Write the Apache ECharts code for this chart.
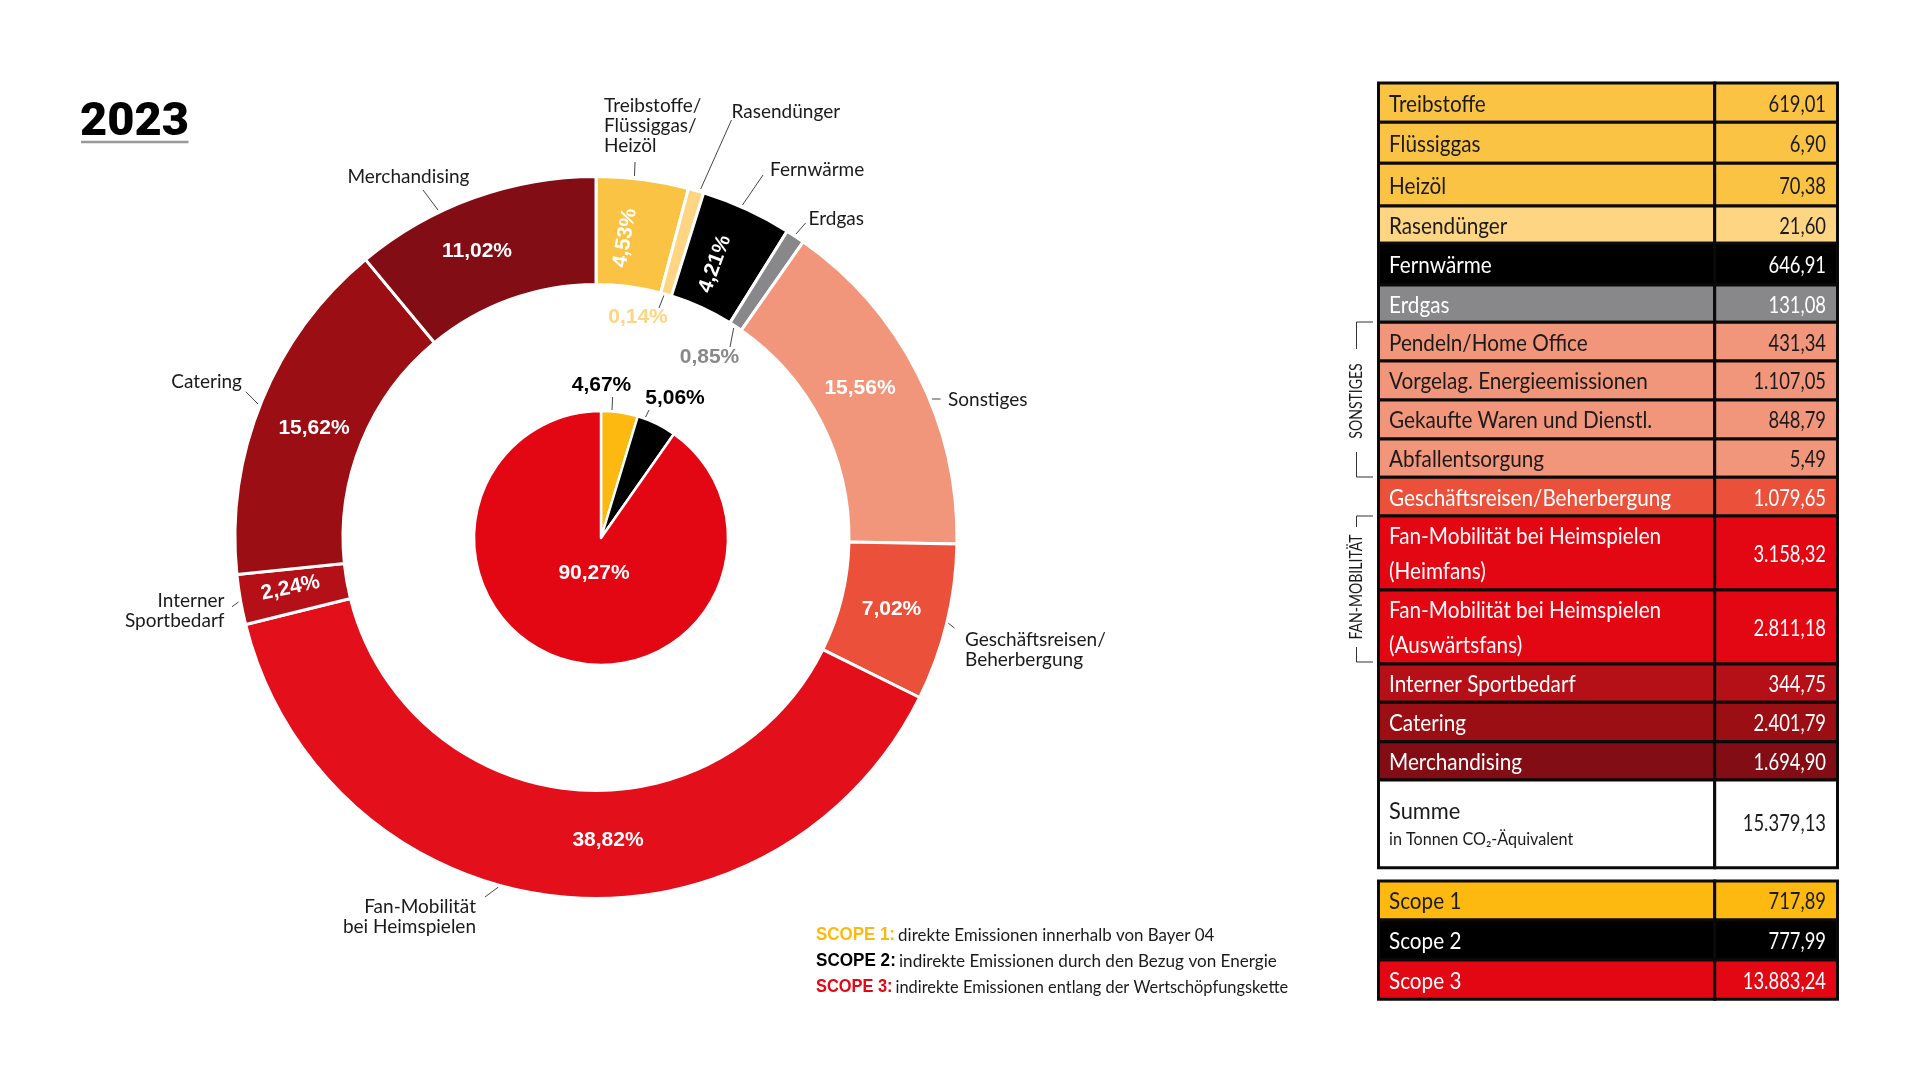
<!DOCTYPE html>
<html>
<head>
<meta charset="utf-8">
<title>2023</title>
<script src="https://cdn.jsdelivr.net/npm/echarts@6/dist/echarts.min.js"></script>
<style>
    html, body { margin: 0; padding: 0; background: #fff; }
    #chart { width: 1920px; height: 1080px; }
</style>
</head>
<body>
<div id="chart"></div>
<script>
// ring data, small slices as wide as they are drawn in the picture
var outerNames = ['Treibstoffe/\nFlüssiggas/\nHeizöl', 'Rasendünger', 'Fernwärme', 'Erdgas', 'Sonstiges',
    'Geschäftsreisen/\nBeherbergung', 'Fan-Mobilität\nbei Heimspielen', 'Interner\nSportbedarf', 'Catering', 'Merchandising'];
var outerShares = [4.12, 0.7, 4.06, 0.85, 15.56, 7.02, 38.82, 2.24, 15.62, 11.02];
var outerPercents = ['4,53%', '0,14%', '4,21%', '0,85%', '15,56%', '7,02%', '38,82%', '2,24%', '15,62%', '11,02%'];

// scope pie
var innerNames = ['Scope 1', 'Scope 2', 'Scope 3'];
var innerValues = [4.67, 5.06, 90.27];
var innerPercents = ['4,67%', '5,06%', '90,27%'];

// table
var tableLabels = ['Treibstoffe', 'Flüssiggas', 'Heizöl', 'Rasendünger', 'Fernwärme', 'Erdgas', 'Pendeln/Home Office',
    'Vorgelag. Energieemissionen', 'Gekaufte Waren und Dienstl.', 'Abfallentsorgung', 'Geschäftsreisen/Beherbergung',
    'Fan-Mobilität bei Heimspielen\n(Heimfans)', 'Fan-Mobilität bei Heimspielen\n(Auswärtsfans)', 'Interner Sportbedarf',
    'Catering', 'Merchandising'];
var tableValues = ['619,01', '6,90', '70,38', '21,60', '646,91', '131,08', '431,34', '1.107,05', '848,79', '5,49',
    '1.079,65', '3.158,32', '2.811,18', '344,75', '2.401,79', '1.694,90'];
var sumLabel = 'Summe';
var sumUnit = 'in Tonnen CO₂-Äquivalent';
var sumValue = '15.379,13';
var scopeLabels = ['Scope 1', 'Scope 2', 'Scope 3'];
var scopeValues = ['717,89', '777,99', '13.883,24'];
var noteHeads = ['SCOPE 1:', 'SCOPE 2:', 'SCOPE 3:'];
var noteTexts = ['direkte Emissionen innerhalb von Bayer 04', 'indirekte Emissionen durch den Bezug von Energie',
    'indirekte Emissionen entlang der Wertschöpfungskette'];

// colours
var outerColors = ['#fbc344', '#fed583', '#000000', '#88888a', '#f2967b', '#ea503a', '#e30f1b', '#b50f17', '#9b0e14', '#820d14'];
var innerColors = ['#fdb90f', '#000000', '#e30613'];
var rowColors = ['#fbc344', '#fbc344', '#fbc344', '#fed583', '#000000', '#88888a', '#f2967b', '#f2967b', '#f2967b', '#f2967b',
    '#ea503a', '#e30613', '#e30613', '#b50f17', '#9b0e14', '#820d14'];
var rowTextColors = ['#1a1a1a', '#1a1a1a', '#1a1a1a', '#1a1a1a', '#fff', '#fff', '#1a1a1a', '#1a1a1a', '#1a1a1a', '#1a1a1a',
    '#fff', '#fff', '#fff', '#fff', '#fff', '#fff'];
var scopeColors = ['#fdb90f', '#000000', '#e30613'];
var scopeTextColors = ['#1a1a1a', '#fff', '#fff'];
var noteColors = ['#fdb90f', '#000000', '#e30613'];

// layout
var FONT = 'Lato, "Liberation Sans", sans-serif';
var BOLD_FONT = '"Liberation Sans", sans-serif';
var ringCenter = [596, 537.5];
var pieCenter = [601, 538];
var rowEdges = [83, 122.3, 163.3, 206, 243.3, 285, 322.3, 361, 400, 439, 477.3, 516, 590, 664, 702.3, 741.7, 780];
var sumBottom = 867.7;
var scopeEdges = [881, 920, 960, 999.3];
var tableLeft = 1378.5, tableMid = 1714.7, tableRight = 1837.5;
var textLeft = 1389, textRight = 1826;
var noteRows = [935, 961, 987];
var noteSqueeze = [0.94, 0.95, 0.91];

// label anchors: [x, y, align, rotate]
var percentAnchors = [
    [625, 238, 'center', 80], [638, 317, 'center', 0], [715, 264, 'center', 70], [709.5, 357, 'center', 0], [860, 388, 'center', 0],
    [891.5, 609, 'center', 0], [608, 840, 'center', 0], [290.5, 588, 'center', 12], [314, 428, 'center', 0], [477, 251, 'center', 0]
];
var percentLines = { 1: [[664, 295], [659, 308]], 3: [[733.7, 328], [730, 347]] };
var nameAnchors = [
    [604, 125.5, 'left'], [731.5, 111.5, 'left'], [770, 170, 'left'], [808.5, 219, 'left'], [948, 400, 'left'],
    [965, 650, 'left'], [476, 917, 'right'], [224.5, 610.5, 'right'], [242, 382, 'right'], [469.5, 176.5, 'right']
];
var nameLines = [
    [[635, 162], [634.5, 176]], [[731.5, 120], [700.7, 189]], [[763, 175], [742.5, 205]], [[805.6, 223], [796, 234]],
    [[932, 399], [940.6, 399]], [[948, 623], [954.5, 628]], [[485, 897], [498.4, 887]], [[232, 606.7], [238.5, 602]],
    [[245.8, 391.7], [258, 404]], [[423, 190], [438, 210]]
];
var innerAnchors = [[601.5, 385, 'center'], [675, 398, 'center'], [594, 573, 'center']];
var innerLines = [[[612.6, 397], [612, 410]], [[649, 410], [645.6, 417]], null];

function sliceData(names, values, colors) {
    return names.map(function(name, i) {
        return { name: name, value: values[i], itemStyle: { color: colors[i] } };
    });
}

function text(x, y, str, size, color, align, extra) {
    extra = extra || {};
    return { type: 'text', silent: true, z: 20, rotation: extra.rotation || 0, scaleX: extra.scaleX || 1, originX: x, originY: y,
        style: { x: x, y: y, text: str, fill: color, font: size + 'px ' + FONT,
            align: align || 'left', verticalAlign: 'middle', lineHeight: extra.lineHeight } };
}

function line(x1, y1, x2, y2, color, width) {
    return { type: 'line', silent: true, z: 20, shape: { x1: x1, y1: y1, x2: x2, y2: y2 }, style: { stroke: color, lineWidth: width } };
}

function cell(x1, y1, x2, y2, color) {
    return { type: 'rect', silent: true, z: 10, shape: { x: x1, y: y1, width: x2 - x1, height: y2 - y1 },
        style: { fill: color, stroke: '#0a0a0a', lineWidth: 3 } };
}

// table and side notes are drawn as graphic elements
var valueSqueeze = { scaleX: 0.8 };
var labelSqueeze = { scaleX: 0.9, lineHeight: 35 };
var graphics = [];
tableLabels.forEach(function(label, i) {
    var top = rowEdges[i], bottom = rowEdges[i + 1], mid = (top + bottom) / 2 + 1.5;
    graphics.push(cell(tableLeft, top, tableMid, bottom, rowColors[i]));
    graphics.push(cell(tableMid, top, tableRight, bottom, rowColors[i]));
    graphics.push(text(textLeft, mid, label, 23, rowTextColors[i], 'left', labelSqueeze));
    graphics.push(text(textRight, mid, tableValues[i], 23, rowTextColors[i], 'right', valueSqueeze));
});
graphics.push(cell(tableLeft, 780, tableMid, sumBottom, '#fff'));
graphics.push(cell(tableMid, 780, tableRight, sumBottom, '#fff'));
graphics.push(text(textLeft, 812, sumLabel, 23, '#1a1a1a', 'left', { scaleX: 0.95 }));
graphics.push(text(textLeft, 840, sumUnit, 17, '#1a1a1a', 'left', { scaleX: 0.95 }));
graphics.push(text(textRight, 824, sumValue, 23, '#1a1a1a', 'right', valueSqueeze));
scopeLabels.forEach(function(label, i) {
    var top = scopeEdges[i], bottom = scopeEdges[i + 1], mid = (top + bottom) / 2 + 1.5;
    graphics.push(cell(tableLeft, top, tableMid, bottom, scopeColors[i]));
    graphics.push(cell(tableMid, top, tableRight, bottom, scopeColors[i]));
    graphics.push(text(textLeft, mid, label, 23, scopeTextColors[i], 'left', labelSqueeze));
    graphics.push(text(textRight, mid, scopeValues[i], 23, scopeTextColors[i], 'right', valueSqueeze));
});

// brackets
[[1373, 322, 1356.5, 322], [1356.5, 322, 1356.5, 349], [1373, 477, 1356.5, 477], [1356.5, 477, 1356.5, 452],
 [1373, 516, 1356.5, 516], [1356.5, 516, 1356.5, 527], [1373, 662, 1356.5, 662], [1356.5, 662, 1356.5, 647]].forEach(function(p) {
    graphics.push(line(p[0], p[1], p[2], p[3], '#333', 1));
});
graphics.push(text(1356, 401, 'SONSTIGES', 18, '#1a1a1a', 'center', { rotation: Math.PI / 2, scaleX: 0.78 }));
graphics.push(text(1356, 587, 'FAN-MOBILITÄT', 18, '#1a1a1a', 'center', { rotation: Math.PI / 2, scaleX: 0.78 }));

// title underline and scope notes
graphics.push(line(81, 142, 188.5, 142, '#999', 2.5));
noteHeads.forEach(function(head, i) {
    var y = noteRows[i];
    graphics.push({ type: 'text', silent: true, z: 20, scaleX: noteSqueeze[i], originX: 816, originY: y, style: {
        x: 816, y: y, verticalAlign: 'middle',
        text: '{h|' + head + '} {t|' + noteTexts[i] + '}',
        rich: {
            h: { font: 'bold 18px ' + BOLD_FONT, fill: noteColors[i] },
            t: { font: '18px ' + FONT, fill: '#1a1a1a' }
        }
    } });
});

var chart = echarts.init(document.getElementById('chart'));

chart.setOption({
    backgroundColor: '#fff',
    animation: false,
    title: {
        text: '2023',
        left: 75,
        top: 95,
        textStyle: { fontFamily: 'Roboto', fontWeight: 900, fontSize: 47, color: '#000' }
    },
    graphic: graphics,
    series: [{
        // outer ring with its percentages
        type: 'pie',
        center: ringCenter,
        radius: [253, 361],
        startAngle: 90,
        avoidLabelOverlap: false,
        silent: true,
        itemStyle: { borderColor: '#fff', borderWidth: 3 },
        data: sliceData(outerNames, outerShares, outerColors).map(function(d, i) {
            var small = !!percentLines[i];
            d.label = { color: small ? outerColors[i] : '#fff' };
            d.labelLine = { show: small, lineStyle: { color: '#444', width: 1 } };
            return d;
        }),
        label: {
            position: 'outside',
            fontFamily: BOLD_FONT,
            fontWeight: 'bold',
            fontSize: 21,
            formatter: function(p) { return outerPercents[p.dataIndex]; }
        },
        labelLayout: function(p) {
            var a = percentAnchors[p.dataIndex];
            return { x: a[0], y: a[1], align: a[2], verticalAlign: 'middle', rotate: a[3], labelLinePoints: percentLines[p.dataIndex] };
        }
    }, {
        // same ring again, invisible, only carries the names
        type: 'pie',
        center: ringCenter,
        radius: [253, 361],
        startAngle: 90,
        avoidLabelOverlap: false,
        silent: true,
        itemStyle: { color: 'transparent' },
        data: outerNames.map(function(name, i) { return { name: name, value: outerShares[i] }; }),
        label: { position: 'outside', fontFamily: FONT, fontSize: 19, lineHeight: 20, color: '#1a1a1a' },
        labelLine: { show: true, lineStyle: { color: '#444', width: 1 } },
        labelLayout: function(p) {
            var a = nameAnchors[p.dataIndex];
            return { x: a[0], y: a[1], align: a[2], verticalAlign: 'middle', labelLinePoints: nameLines[p.dataIndex] };
        }
    }, {
        // scope pie
        type: 'pie',
        center: pieCenter,
        radius: [0, 127],
        startAngle: 90,
        avoidLabelOverlap: false,
        silent: true,
        itemStyle: { borderColor: '#fff', borderWidth: 2.5 },
        data: sliceData(innerNames, innerValues, innerColors).map(function(d, i) {
            d.label = { color: i === 2 ? '#fff' : '#000' };
            d.labelLine = { show: !!innerLines[i], lineStyle: { color: '#444', width: 1 } };
            return d;
        }),
        label: {
            position: 'outside',
            fontFamily: BOLD_FONT,
            fontWeight: 'bold',
            fontSize: 21,
            formatter: function(p) { return innerPercents[p.dataIndex]; }
        },
        labelLayout: function(p) {
            var a = innerAnchors[p.dataIndex];
            return { x: a[0], y: a[1], align: a[2], verticalAlign: 'middle', labelLinePoints: innerLines[p.dataIndex] || undefined };
        }
    }]
});
</script>
</body>
</html>
